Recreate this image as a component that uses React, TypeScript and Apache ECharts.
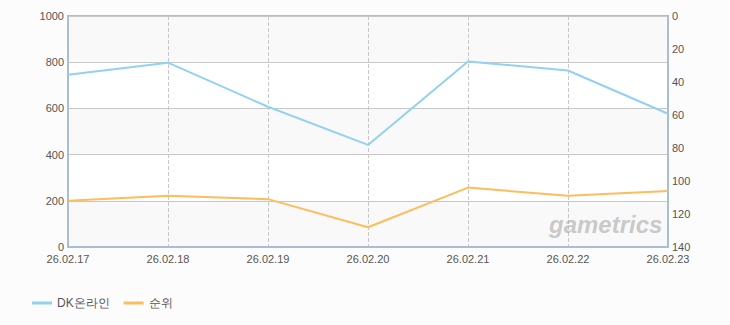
import React, { useEffect, useRef } from "react";
import * as echarts from "echarts";

const categories = ["26.02.17", "26.02.18", "26.02.19", "26.02.20", "26.02.21", "26.02.22", "26.02.23"];
const dkValues = [746, 798, 607, 442, 803, 764, 577];
const rankValues = [112, 109, 111, 128, 104, 109, 106];
const leftTicks = { min: 0, max: 1000, interval: 200 };
const rightTicks = { min: 0, max: 140, interval: 20 };

export default function App() {
  const ref = useRef<HTMLDivElement>(null);
  useEffect(() => {
    document.body.style.margin = "0";
    document.body.style.background = "#fcfcfc";
    const chart = echarts.init(ref.current!, null, { renderer: "svg" });
    const axisColor = "#a9bdd3";
    const labelStyle = { color: "#555", fontSize: 11, fontFamily: "Liberation Sans" };
    chart.setOption({
      animation: false,
      backgroundColor: "#fcfcfc",
      grid: {
        left: 68,
        right: 62,
        top: 16,
        bottom: 78,
        show: true,
        borderColor: axisColor,
        borderWidth: 2,
        backgroundColor: "#fcfcfc",
      },
      legend: {
        left: 27,
        top: 292,
        icon: "rect",
        itemWidth: 20,
        itemHeight: 3,
        itemGap: 14,
        textStyle: { color: "#555", fontSize: 12, fontFamily: "Liberation Sans" },
        data: ["DK온라인", "순위"],
      },
      xAxis: {
        type: "category",
        data: categories,
        boundaryGap: false,
        axisLine: { lineStyle: { color: axisColor, width: 2 } },
        axisTick: { show: false },
        axisLabel: { ...labelStyle, margin: 6 },
        splitLine: { show: true, lineStyle: { color: "#c8c8c8", type: "dashed", width: 1 } },
      },
      yAxis: [
        {
          type: "value",
          min: leftTicks.min,
          max: leftTicks.max,
          interval: leftTicks.interval,
          axisLine: { show: true, lineStyle: { color: axisColor, width: 2 } },
          axisTick: { show: false },
          axisLabel: { ...labelStyle, margin: 4, formatter: (v: number) => String(v) },
          splitLine: { show: true, lineStyle: { color: "#c8c8c8", width: 1 } },
          splitArea: { show: true, areaStyle: { color: ["#f9f9f9", "#ffffff"] } },
        },
        {
          type: "value",
          inverse: true,
          min: rightTicks.min,
          max: rightTicks.max,
          interval: rightTicks.interval,
          position: "right",
          axisLine: { show: true, lineStyle: { color: axisColor, width: 2 } },
          axisTick: { show: false },
          axisLabel: { ...labelStyle, margin: 4, formatter: (v: number) => String(v) },
          splitLine: { show: false },
        },
      ],
      series: [
        {
          name: "DK온라인",
          type: "line",
          data: dkValues,
          yAxisIndex: 0,
          showSymbol: false,
          symbol: "none",
          itemStyle: { color: "#92d1f0" },
          lineStyle: { color: "#92d1f0", width: 2 },
        },
        {
          name: "순위",
          type: "line",
          data: rankValues,
          yAxisIndex: 1,
          showSymbol: false,
          symbol: "none",
          itemStyle: { color: "#fcbd5c" },
          lineStyle: { color: "#fcbd5c", width: 2 },
        },
      ],
      graphic: [
        {
          type: "text",
          x: 549,
          y: 212,
          z: 1,
          silent: true,
          style: {
            text: "gametrics",
            fill: "rgba(160,160,160,0.55)",
            font: "italic bold 24px 'Liberation Sans'",
            textAlign: "left",
            textVerticalAlign: "top",
          },
        },
      ],
    });
    return () => chart.dispose();
  }, []);
  return <div ref={ref} style={{ width: 730, height: 325 }} />;
}
